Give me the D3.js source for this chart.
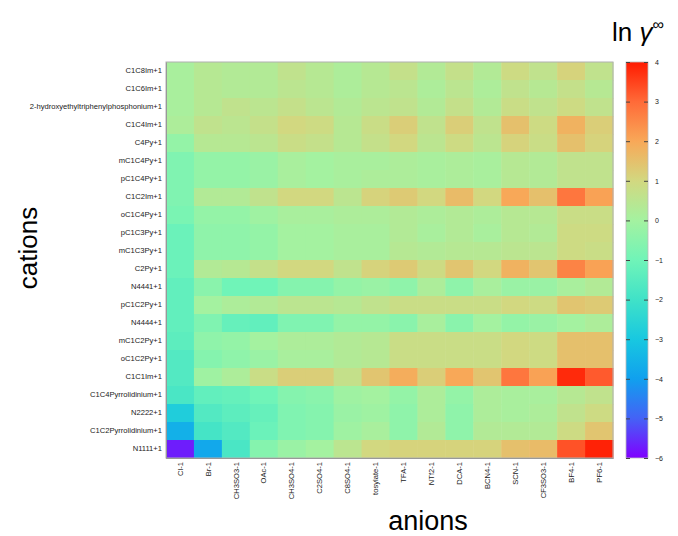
<!DOCTYPE html>
<html><head><meta charset="utf-8">
<script src="https://cdn.jsdelivr.net/npm/d3@7"></script>
<style>body{margin:0;background:#fff;} text{font-family:"Liberation Sans",Arial,sans-serif;}</style>
</head><body><svg id="c" width="678" height="536"></svg>
<script>
const cations = ["C1C8Im+1","C1C6Im+1","2-hydroxyethyltriphenylphosphonium+1","C1C4Im+1","C4Py+1","mC1C4Py+1","pC1C4Py+1","C1C2Im+1","oC1C4Py+1","pC1C3Py+1","mC1C3Py+1","C2Py+1","N4441+1","pC1C2Py+1","N4444+1","mC1C2Py+1","oC1C2Py+1","C1C1Im+1","C1C4Pyrrolidinium+1","N2222+1","C1C2Pyrrolidinium+1","N1111+1"];
const anions = ["Cl-1","Br-1","CH3SO3-1","OAc-1","CH3SO4-1","C2SO4-1","C8SO4-1","tosylate-1","TFA-1","NTf2-1","DCA-1","BCN4-1","SCN-1","CF3SO3-1","BF4-1","PF6-1"];
const values = [
 [0.1,0.4,0.3,0.3,0.6,0.4,0.2,0.4,0.7,0.3,0.7,0.3,0.9,0.6,1.1,0.6],
 [0.1,0.4,0.3,0.3,0.5,0.4,0.2,0.4,0.5,0.2,0.5,0.2,0.6,0.4,0.7,0.4],
 [0.1,0.4,0.6,0.5,0.7,0.5,0.3,0.5,0.6,0.3,0.7,0.3,0.8,0.6,0.9,0.6],
 [0.2,0.6,0.5,0.7,1.0,0.9,0.4,0.8,1.2,0.6,1.2,0.6,1.5,0.9,1.8,1.2],
 [-0.3,0.4,0.4,0.5,0.8,0.7,0.4,0.7,1.0,0.5,0.9,0.5,1.1,0.8,1.5,1.1],
 [-0.7,-0.3,-0.3,-0.2,0.1,0.0,0.1,0.1,0.2,0.1,0.2,0.1,0.4,0.3,0.6,0.6],
 [-0.7,-0.3,-0.3,-0.2,0.1,0.0,0.1,0.2,0.2,0.1,0.2,0.1,0.4,0.3,0.6,0.6],
 [-0.7,0.3,0.3,0.6,1.0,1.0,0.5,1.1,1.3,1.0,1.6,1.0,2.0,1.5,2.8,2.1],
 [-0.8,-0.3,-0.3,-0.1,0.1,0.1,0.2,0.2,0.3,0.2,0.3,0.2,0.4,0.4,0.8,0.8],
 [-1.1,-0.4,-0.4,-0.3,0.0,0.0,0.1,0.1,0.3,0.1,0.3,0.1,0.4,0.3,0.9,0.9],
 [-1.1,-0.4,-0.4,-0.3,0.0,0.0,0.1,0.1,0.4,0.3,0.4,0.4,0.5,0.5,0.9,0.8],
 [-1.1,0.3,0.4,0.7,1.0,1.0,0.6,1.1,1.3,0.9,1.4,1.0,1.8,1.4,2.6,2.1],
 [-1.3,-0.5,-1.0,-1.0,-0.6,-0.6,-0.3,-0.2,-0.4,0.2,-0.4,0.1,-0.2,-0.2,0.1,0.3],
 [-1.3,0.0,0.2,0.3,0.5,0.5,0.4,0.6,0.8,0.8,0.8,0.8,1.0,0.9,1.4,1.3],
 [-1.3,-0.7,-1.2,-1.3,-0.7,-0.7,-0.3,-0.3,-0.5,0.1,-0.5,0.0,-0.3,-0.2,0.0,0.2],
 [-1.4,-0.4,-0.3,0.0,0.2,0.2,0.3,0.4,0.8,0.8,0.8,0.8,1.0,0.9,1.5,1.5],
 [-1.6,-0.6,-0.4,-0.2,0.1,0.1,0.3,0.4,0.8,0.8,0.8,0.8,1.0,0.9,1.5,1.5],
 [-1.6,-0.1,0.2,0.8,1.2,1.2,0.7,1.4,1.9,1.2,2.0,1.4,2.8,2.1,3.8,3.2],
 [-1.8,-1.3,-1.2,-1.0,-0.6,-0.5,-0.1,0.0,-0.3,0.2,-0.3,0.2,0.1,0.1,0.4,0.6],
 [-2.8,-1.6,-1.4,-1.2,-0.7,-0.6,-0.2,-0.1,-0.4,0.2,-0.4,0.2,0.1,0.2,0.6,0.9],
 [-3.6,-1.9,-1.6,-1.1,-0.7,-0.6,-0.1,0.1,-0.4,0.3,-0.4,0.3,0.3,0.3,0.9,1.4],
 [-5.7,-3.8,-1.8,-0.6,-0.2,0.0,0.5,1.0,1.1,1.1,1.1,1.1,1.5,1.6,3.3,3.9]
];
const cbTicks = [-6,-5,-4,-3,-2,-1,0,1,2,3,4];
const cmapStops = [-6,-5,-4,-3,-2,-1,0,1,2,3,4];
const cmapColors = ["#8000ff","#4462f6","#10a0ee","#18c8e0","#40e2c8","#70f4b8","#a4f2a0","#d2d880","#f8a858","#ff6a38","#ff1a00"];

const svg = d3.select("#c");
const L=166,R=613,T=62,B=458;
const x = d3.scaleBand().domain(anions).range([L,R]);
const y = d3.scaleBand().domain(cations).range([T,B]);
const color = d3.scaleLinear().domain(cmapStops).range(cmapColors).interpolate(d3.interpolateRgb).clamp(true);

const cells=[];
values.forEach((row,i)=>row.forEach((v,j)=>cells.push({c:cations[i],a:anions[j],v})));
svg.append("g").selectAll("rect").data(cells).join("rect")
  .attr("x",d=>x(d.a)).attr("y",d=>y(d.c))
  .attr("width",x.bandwidth()+0.5).attr("height",y.bandwidth()+0.5)
  .attr("fill",d=>color(d.v));
svg.append("rect").attr("x",L).attr("y",T).attr("width",R-L).attr("height",B-T)
  .attr("fill","none").attr("stroke","#b0b0b0").attr("stroke-width",1);

const yAx = svg.append("g").attr("transform",`translate(${L},0)`)
  .call(d3.axisLeft(y).tickSize(0).tickPadding(4));
yAx.select(".domain").attr("stroke","#999");
yAx.selectAll("text").attr("font-size",7.6).attr("fill","#222");

const xAx = svg.append("g").attr("transform",`translate(0,${B})`)
  .call(d3.axisBottom(x).tickSize(0));
xAx.select(".domain").attr("stroke","#999");
xAx.selectAll("text").attr("font-size",7.6).attr("fill","#222")
  .attr("text-anchor","end").attr("dy","0.35em")
  .attr("transform","rotate(-90)").attr("x",-4).attr("y",0);

svg.append("text").attr("transform","translate(37,248) rotate(-90)")
  .attr("text-anchor","middle").attr("font-size",26).text("cations");
svg.append("text").attr("x",428).attr("y",530)
  .attr("text-anchor","middle").attr("font-size",27).text("anions");

// colorbar
const cbL=626,cbR=648;
const cs = d3.scaleLinear().domain([-6,4]).range([B,T]);
const defs = svg.append("defs");
const grad = defs.append("linearGradient").attr("id","cb").attr("x1",0).attr("y1",1).attr("x2",0).attr("y2",0);
cmapStops.forEach((s,i)=>grad.append("stop").attr("offset",(s+6)/10).attr("stop-color",cmapColors[i]));
svg.append("rect").attr("x",cbL).attr("y",T).attr("width",cbR-cbL).attr("height",B-T)
  .attr("fill","url(#cb)").attr("stroke","#bbb").attr("stroke-width",0.8);
const cbAx = svg.append("g").attr("transform",`translate(${cbR},0)`)
  .call(d3.axisRight(cs).tickValues(cbTicks).tickSize(-4).tickPadding(7).tickFormat(d3.format("d")));
cbAx.select(".domain").remove();
cbAx.selectAll("line").attr("stroke","#444");
cbAx.selectAll("text").attr("font-size",7).attr("fill","#222");
const cbAx2 = svg.append("g").attr("transform",`translate(${cbL},0)`)
  .call(d3.axisLeft(cs).tickValues(cbTicks).tickSize(-4).tickFormat(""));
cbAx2.select(".domain").remove();
cbAx2.selectAll("line").attr("stroke","#444");

const t = svg.append("text").attr("x",612).attr("y",41).attr("font-size",26);
t.append("tspan").text("ln ");
t.append("tspan").attr("font-style","italic").text("γ");
t.append("tspan").attr("font-size",16).attr("dy",-11).text("∞");
</script></body></html>
